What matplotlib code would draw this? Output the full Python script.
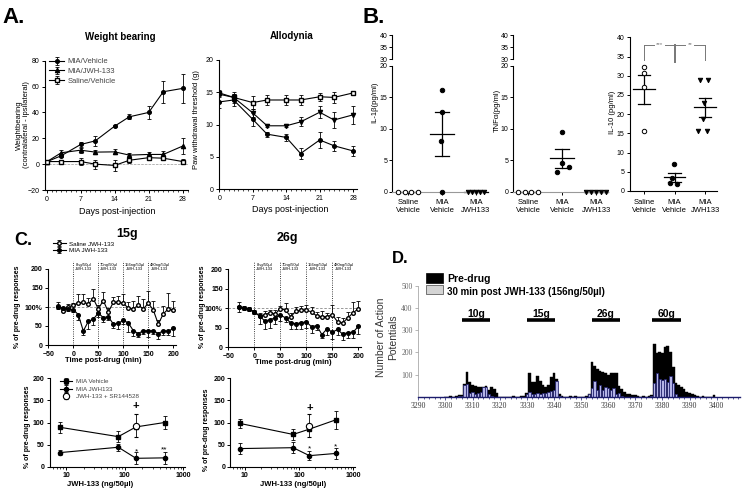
import numpy as np
import matplotlib.pyplot as plt
from matplotlib.patches import Rectangle
from matplotlib.ticker import MultipleLocator, LogLocator, NullFormatter

plt.rcParams['font.family'] = ['Liberation Sans', 'DejaVu Sans']

# ---------------- A. weight bearing / allodynia ----------------
days = [0, 3, 7, 10, 14, 17, 21, 24, 28]
wb_mia_veh = [1.8, 6.5, 15.2, 18, 29.4, 36.6, 40, 56, 58.6]
wb_mia_veh_err = [1, 1, 2, 4, 1, 2, 5, 8.5, 11.5]
wb_mia_jwh = [1.8, 8.8, 10.8, 9.3, 9.5, 7, 7.5, 7.5, 14]
wb_mia_jwh_err = [1, 2, 2, 1.5, 2, 2, 2, 3, 6]
wb_sal_veh = [2, 2, 2, 0, -1, 3, 5, 4.6, 2]
wb_sal_veh_err = [1, 1, 2.5, 3.5, 4, 2, 1.5, 1.5, 2]

al_mia_veh = [13.5, 13.8, 10.8, 8.5, 8.0, 5.5, 7.6, 6.7, 5.9]
al_mia_veh_err = [0.9, 0.9, 1.0, 0.4, 0.5, 0.8, 1.2, 0.8, 0.8]
al_mia_jwh = [14.7, 14.2, 11.8, 9.8, 9.8, 10.4, 11.9, 10.7, 11.5]
al_mia_jwh_err = [0.5, 0.5, 0.6, 0.2, 0.2, 0.7, 0.9, 1.3, 1.4]
al_sal_veh = [14.9, 14.2, 13.4, 13.8, 13.8, 13.8, 14.3, 14.2, 14.9]
al_sal_veh_err = [0.4, 0.8, 1.0, 0.8, 0.8, 0.8, 0.6, 0.8, 0.3]

# ---------------- B. cytokines (pg/ml) ----------------
b_groups = ['Saline\nVehicle', 'MIA\nVehicle', 'MIA\nJWH133']
il1b = [[0, 0, 0, 0], [16.2, 12.6, 8.1, 0], [0, 0, 0, 0, 0]]
tnfa = [[0, 0, 0, 0], [9.5, 4.5, 4.0, 3.1], [0, 0, 0, 0, 0]]
il10 = [[32.4, 30.8, 27.1, 15.7], [6.9, 3.3, 2.2, 1.7],
        [28.9, 28.9, 22.8, 18.7, 15.6, 15.6]]

# ---------------- C. time course and dose response ----------------
t_min = [-30, -20, -10, 0, 10, 20, 30, 40, 50, 60, 70, 80,
         90, 100, 110, 120, 130, 140, 150, 160, 170, 180, 190, 200]
dose_starts = [0, 50, 100, 150]
dose_labels = ['8ng/50µl', '70ng/50µl', '156ng/50µl', '480ng/50µl']

sal_15 = [103, 90, 100, 105, 110, 113, 108, 122, 95, 117, 87, 112,
          113, 110, 97, 95, 105, 95, 110, 92, 55, 82, 95, 93]
sal_15_err = [10, 5, 8, 5, 25, 22, 15, 25, 10, 22, 10, 15,
              15, 25, 15, 22, 25, 25, 32, 25, 10, 20, 42, 22]
mia_15 = [100, 98, 95, 93, 80, 37, 62, 68, 84, 72, 75, 55,
          57, 65, 58, 38, 30, 38, 37, 38, 30, 38, 36, 44]
mia_15_err = [5, 5, 5, 5, 15, 10, 20, 15, 10, 12, 10, 10,
              15, 10, 25, 15, 10, 10, 15, 10, 15, 12, 10, 20]

sal_26 = [103, 100, 97, 90, 80, 83, 88, 85, 98, 95, 78, 92,
          95, 95, 90, 80, 78, 78, 83, 65, 62, 75, 88, 98]
sal_26_err = [12, 5, 5, 5, 8, 10, 8, 10, 8, 18, 10, 10,
              10, 12, 12, 10, 15, 10, 25, 12, 12, 15, 28, 20]
mia_26 = [102, 100, 97, 90, 80, 67, 70, 75, 82, 75, 62, 60,
          62, 65, 52, 55, 32, 47, 38, 45, 33, 37, 38, 53]
mia_26_err = [12, 5, 5, 5, 20, 20, 20, 15, 15, 10, 15, 15,
              15, 15, 15, 12, 10, 15, 18, 15, 15, 15, 15, 20]

doses = [8, 78, 156, 480]
dr15_veh = [89, 68, 90, 100]
dr15_veh_err = [13, 13, 2, 15]
dr15_jwh = [32, 44, 19, 20]
dr15_jwh_err = [6, 8, 14, 14]
dr26_veh = [98, 73, 85, 106]
dr26_veh_err = [10, 12, 2, 20]
dr26_jwh = [41, 43, 25, 30]
dr26_jwh_err = [12, 12, 10, 12]
sr_dose = [156]
dr15_sr = [93]
dr15_sr_err = [26]
dr26_sr = [93]
dr26_sr_err = [26]

# ---------------- D. action potentials per 1 s bin, from 3300 s ----------------
d_start = 3300
pre_drug = [0, 0, 3, 0, 4, 6, 8, 56, 113, 68,
            55, 50, 45, 45, 45, 50, 30, 42, 35, 15,
            0, 0, 0, 0, 0, 2, 0, 0, 3, 5,
            15, 108, 65, 65, 93, 70, 55, 45, 55, 90,
            108, 80, 10, 3, 0, 0, 3, 0, 5, 0,
            0, 0, 3, 10, 155, 140, 125, 115, 110, 105,
            100, 105, 105, 105, 50, 35, 20, 12, 10, 6,
            6, 5, 0, 3, 0, 3, 8, 240, 196, 203,
            196, 226, 230, 203, 135, 60, 53, 45, 33, 23,
            15, 10, 6, 5, 0, 5, 0, 0, 0, 8]
post_drug = [0, 0, 0, 0, 0, 3, 5, 55, 58, 15,
             20, 10, 15, 20, 45, 45, 10, 5, 0, 0,
             0, 0, 0, 0, 0, 0, 0, 0, 0, 0,
             10, 20, 10, 10, 15, 10, 15, 15, 20, 25,
             30, 72, 5, 0, 0, 0, 0, 0, 0, 0,
             0, 0, 0, 10, 40, 70, 30, 55, 30, 45,
             40, 30, 40, 10, 15, 5, 0, 0, 0, 0,
             0, 0, 0, 0, 0, 0, 5, 60, 105, 80,
             75, 80, 65, 95, 60, 10, 0, 0, 0, 0,
             0, 0, 0, 0, 0, 0, 0, 0, 0, 0]
forces = ['10g', '15g', '26g', '60g']
force_on = [3306.2, 3330.2, 3354.1, 3376.2]
force_off = [3316.4, 3340.4, 3364.3, 3386.7]

W, H = 745, 493
fig = plt.figure(figsize=(7.45, 4.93), dpi=100)


def px_axes(left, top, right, bottom):
    return fig.add_axes([left / W, 1 - bottom / H, (right - left) / W, (bottom - top) / H])


def prism(ax, fs=5, bold=False):
    for s in ['top', 'right']:
        ax.spines[s].set_visible(False)
    ax.spines['left'].set_linewidth(0.8)
    ax.spines['bottom'].set_linewidth(0.8)
    ax.tick_params(labelsize=fs, length=2.5, width=0.7, pad=1.5)
    ax.tick_params(which='minor', length=1.5, width=0.5)
    if bold:
        for lab in ax.get_xticklabels() + ax.get_yticklabels():
            lab.set_fontweight('bold')


def ftext(x, y, s, **kw):
    fig.text(x / W, 1 - y / H, s, **kw)


eb = dict(color='k', lw=0.8, elinewidth=0.6, capsize=1.6, capthick=0.6)

# panel letters
ftext(2, 23, 'A.', fontsize=16, fontweight='bold')
ftext(362, 23, 'B.', fontsize=16, fontweight='bold')
ftext(14, 245, 'C.', fontsize=13, fontweight='bold')
ftext(392, 263, 'D.', fontsize=12, fontweight='bold')

# ---- A left: weight bearing ----
ax = px_axes(45.2, 60.7, 187.6, 190)
ax.axhline(0, color='#999', ls='--', lw=0.5)
ax.errorbar(days, wb_mia_veh, yerr=wb_mia_veh_err, fmt='-o', ms=2.6, label='MIA/Vehicle', **eb)
ax.errorbar(days, wb_mia_jwh, yerr=wb_mia_jwh_err, fmt='-^', ms=3, label='MIA/JWH-133', **eb)
ax.errorbar(days, wb_sal_veh, yerr=wb_sal_veh_err, fmt='-s', ms=3, mfc='white',
            label='Saline/Vehicle', **eb)
ax.set_xlim(-0.3, 29)
ax.set_ylim(-20, 80)
ax.set_xticks([0, 7, 14, 21, 28])
ax.xaxis.set_minor_locator(MultipleLocator(1))
ax.set_yticks([-20, 0, 20, 40, 60, 80])
prism(ax)
leg = ax.legend(loc='upper left', bbox_to_anchor=(0.0, 1.05), frameon=False, fontsize=5.5,
                labelspacing=0.3, handlelength=2.0, handletextpad=0.4, borderpad=0)
for t in leg.get_texts():
    t.set_color('#444')
ftext(120, 37, 'Weight bearing', ha='center', va='center', fontsize=7, fontweight='bold')
ftext(23, 125, 'Weightbearing\n(contralateral - ipsilateral)', rotation=90, ha='center',
      va='center', fontsize=5.5, multialignment='center')
ftext(117, 211, 'Days post-injection', ha='center', va='center', fontsize=6.5)

# ---- A right: allodynia ----
ax = px_axes(218.8, 60, 357, 189)
ax.errorbar(days, al_sal_veh, yerr=al_sal_veh_err, fmt='-s', ms=3, mfc='white', **eb)
ax.errorbar(days, al_mia_jwh, yerr=al_mia_jwh_err, fmt='-v', ms=3, **eb)
ax.errorbar(days, al_mia_veh, yerr=al_mia_veh_err, fmt='-o', ms=2.6, **eb)
ax.set_xlim(-0.1, 28.8)
ax.set_ylim(0, 20)
ax.set_xticks([0, 7, 14, 21, 28])
ax.xaxis.set_minor_locator(MultipleLocator(1))
ax.set_yticks([0, 5, 10, 15, 20])
prism(ax)
ftext(292, 36, 'Allodynia', ha='center', va='center', fontsize=7, fontweight='bold')
ftext(196, 120, 'Paw withdrawal threshold (g)', rotation=90, ha='center', va='center',
      fontsize=5.5)
ftext(290, 210, 'Days post-injection', ha='center', va='center', fontsize=6.5)


# ---- B: scatter with mean +/- SEM ----
def scatter_panel(ax, groups, offsets, markers):
    for i, vals in enumerate(groups):
        vals = np.array(vals, dtype=float)
        mk, fill = markers[i]
        ax.plot(np.array(offsets[i]) + i, vals, ls='none', marker=mk, ms=3.2, color='k',
                mfc=fill, mew=0.7, clip_on=False, zorder=3)
        m = vals.mean()
        sem = vals.std(ddof=1) / np.sqrt(len(vals))
        ax.plot([i - 0.35, i + 0.35], [m, m], color='k', lw=0.9, clip_on=False)
        if sem > 0:
            ax.plot([i - 0.2, i + 0.2], [m - sem, m - sem], color='k', lw=0.9)
            ax.plot([i - 0.2, i + 0.2], [m + sem, m + sem], color='k', lw=0.9)
            ax.plot([i, i], [m - sem, m + sem], color='k', lw=0.9)
    ax.set_xticks([0, 1, 2])
    ax.set_xticklabels(b_groups)
    ax.tick_params(axis='x', length=0)


def broken_top(left, right, xlim):
    up = px_axes(left, 35, right, 59.3)
    up.set_ylim(30, 40)
    up.set_xlim(*xlim)
    up.set_yticks([30, 35, 40])
    up.set_xticks([])
    for s in ['top', 'right', 'bottom']:
        up.spines[s].set_visible(False)
    up.spines['left'].set_linewidth(0.8)
    up.tick_params(labelsize=5, length=2.5, width=0.7, pad=1.0)
    up.patch.set_alpha(0)


sal_mk = ('o', 'white')
mia_mk = ('o', 'k')
jwh_mk = ('v', 'k')

ax = px_axes(392, 65.7, 482, 191.7)
scatter_panel(ax, il1b, [[-0.29, -0.1, 0.09, 0.29], [0, 0, -0.02, 0],
                         [-0.24, -0.12, 0, 0.12, 0.24]], [sal_mk, mia_mk, jwh_mk])
ax.set_xlim(-0.47, 2.18)
ax.set_ylim(0, 20)
ax.set_yticks([0, 5, 10, 15, 20])
prism(ax, fs=5)
ax.tick_params(axis='y', pad=1.0)
ax.spines['bottom'].set_color('#999')
ax.tick_params(axis='x', labelsize=5.5, pad=3)
broken_top(392, 482, (-0.47, 2.18))
ftext(375, 102, 'IL-1β(pg/ml)', rotation=90, ha='center', va='center', fontsize=5.5)

ax = px_axes(513, 65.7, 608, 191.7)
scatter_panel(ax, tnfa, [[-0.3, -0.1, 0.1, 0.3], [0, 0, 0.2, -0.15],
                         [-0.3, -0.15, 0, 0.15, 0.3]], [sal_mk, mia_mk, jwh_mk])
ax.set_xlim(-0.44, 2.35)
ax.set_ylim(0, 20)
ax.set_yticks([0, 5, 10, 15, 20])
prism(ax, fs=5)
ax.tick_params(axis='y', pad=1.0)
ax.spines['bottom'].set_color('#999')
ax.tick_params(axis='x', labelsize=5.5, pad=3)
broken_top(513, 608, (-0.44, 2.35))
ftext(497, 110, 'TNFα(pg/ml)', rotation=90, ha='center', va='center', fontsize=5.5)

ax = px_axes(630, 37.3, 717, 191)
scatter_panel(ax, il10, [[0, 0, 0, 0], [-0.02, -0.08, -0.15, 0.07],
                         [-0.16, 0.11, -0.05, -0.06, -0.22, 0.05]], [sal_mk, mia_mk, jwh_mk])
ax.set_xlim(-0.46, 2.39)
ax.set_ylim(0, 40)
ax.set_yticks([0, 5, 10, 15, 20, 25, 30, 35, 40])
prism(ax, fs=5)
ax.tick_params(axis='x', labelsize=5.5, pad=3)
br = dict(color='#777', lw=0.7)
ax.plot([0, 0], [34.1, 38], **br)
ax.plot([0, 0.32], [38, 38], **br)
ax.plot([0.68, 1.0], [38, 38], **br)
ax.plot([1, 1], [33.6, 38], color='#777', lw=1.4)
ax.plot([1.0, 1.35], [38, 38], **br)
ax.plot([1.65, 2.0], [38, 38], **br)
ax.plot([2, 2], [34.1, 38], **br)
ax.text(0.5, 38, '***', ha='center', va='center', fontsize=4.5, color='#777')
ax.text(1.5, 38, '**', ha='center', va='center', fontsize=4.5, color='#777')
ftext(613, 112, 'IL-10 (pg/ml)', rotation=90, ha='center', va='center', fontsize=5.5)


# ---- C top: time courses ----
def time_panel(ax, sal, sal_err, mia, mia_err):
    zeros = [0] * len(t_min)
    ax.axhline(100, color='#888', lw=0.6, ls=(0, (3, 2)))
    for xs, lab in zip(dose_starts, dose_labels):
        ax.axvline(xs, color='k', ls=':', lw=0.6)
        ax.text(xs + 3, 206, lab + '\nJWH-133', fontsize=3, ha='left', va='center',
                multialignment='center', linespacing=1.1)
    ax.errorbar(t_min, sal, yerr=[zeros, sal_err], fmt='-o', ms=2.6, mfc='white',
                label='Saline JWH-133', **eb)
    ax.errorbar(t_min, mia, yerr=[mia_err, zeros], fmt='-o', ms=2.6,
                label='MIA JWH-133', **eb)
    ax.set_xlim(-50, 205)
    ax.set_ylim(0, 220)
    ax.spines['left'].set_bounds(0, 200)
    ax.set_xticks([-50, 0, 50, 100, 150, 200])
    ax.set_yticks([0, 50, 100, 150, 200])
    ax.set_yticklabels(['0', '50', '100%', '150', '200'])
    prism(ax, fs=5, bold=True)


ax = px_axes(48.3, 261.4, 175.8, 345)
time_panel(ax, sal_15, sal_15_err, mia_15, mia_15_err)
leg = ax.legend(loc='upper left', bbox_to_anchor=(50 / W, 1 - 238 / H),
                bbox_transform=fig.transFigure, frameon=False, fontsize=4.5,
                labelspacing=0.15, handlelength=2.0, handletextpad=0.5, borderpad=0)
ftext(127, 234, '15g', ha='center', va='center', fontsize=9, fontweight='bold')
ftext(18, 307, '% of pre-drug responses', rotation=90, ha='center', va='center',
      fontsize=5, fontweight='bold')
ftext(103, 360, 'Time post-drug (min)', ha='center', va='center', fontsize=5.5,
      fontweight='bold')

ax = px_axes(228.3, 261.4, 360.9, 347)
time_panel(ax, sal_26, sal_26_err, mia_26, mia_26_err)
ftext(287, 238, '26g', ha='center', va='center', fontsize=9, fontweight='bold')
ftext(202, 307, '% of pre-drug responses', rotation=90, ha='center', va='center',
      fontsize=5, fontweight='bold')
ftext(293, 362, 'Time post-drug (min)', ha='center', va='center', fontsize=5.5,
      fontweight='bold')


# ---- C bottom: dose response ----
def dose_panel(ax, veh, veh_err, jwh, jwh_err, sr, sr_err, xlim):
    ax.errorbar(doses, veh, yerr=veh_err, fmt='-s', ms=3, label='MIA Vehicle', **eb)
    ax.errorbar(doses, jwh, yerr=jwh_err, fmt='-o', ms=3, label='MIA JWH133', **eb)
    ax.errorbar(sr_dose, sr, yerr=sr_err, fmt='o', ms=4.5, mfc='white', mew=0.8,
                label='JWH-133 + SR144528', **eb)
    ax.set_xscale('log')
    ax.set_xlim(*xlim)
    ax.set_ylim(0, 200)
    ax.set_xticks([10, 100, 1000])
    ax.set_xticklabels(['10', '100', '1000'])
    ax.xaxis.set_minor_locator(LogLocator(base=10, subs=np.arange(2, 10)))
    ax.xaxis.set_minor_formatter(NullFormatter())
    ax.set_yticks([0, 50, 100, 150, 200])
    prism(ax, fs=5, bold=True)


ax = px_axes(50, 378.3, 185, 466.7)
dose_panel(ax, dr15_veh, dr15_veh_err, dr15_jwh, dr15_jwh_err, dr15_sr, dr15_sr_err,
           (5.33, 1069))
ax.text(156, 137, '+', ha='center', va='center', fontsize=8, fontweight='bold')
ax.text(160, 34, '*', ha='center', va='center', fontsize=6)
ax.text(480, 38, '**', ha='center', va='center', fontsize=6)
leg = ax.legend(loc='upper left', bbox_to_anchor=(0.05, 1.03), frameon=False, fontsize=4.5,
                labelspacing=0.35, handlelength=2.0, handletextpad=0.5, borderpad=0)
for t in leg.get_texts():
    t.set_color('#444')
ftext(28, 427, '% of pre-drug responses', rotation=90, ha='center', va='center',
      fontsize=5, fontweight='bold')
ftext(100, 485, 'JWH-133 (ng/50µl)', ha='center', va='center', fontsize=5.5,
      fontweight='bold')

ax = px_axes(230, 378.3, 355, 466.7)
dose_panel(ax, dr26_veh, dr26_veh_err, dr26_jwh, dr26_jwh_err, dr26_sr, dr26_sr_err,
           (5.3, 1088))
ax.tick_params(axis='y', pad=1.0)
ax.text(156, 133, '+', ha='center', va='center', fontsize=8, fontweight='bold')
ax.text(160, 40, '*', ha='center', va='center', fontsize=6)
ax.text(480, 44, '*', ha='center', va='center', fontsize=6)
ftext(207, 430, '% of pre-drug responses', rotation=90, ha='center', va='center',
      fontsize=5, fontweight='bold')
ftext(293, 485, 'JWH-133 (ng/50µl)', ha='center', va='center', fontsize=5.5,
      fontweight='bold')

# ---- D: histogram of action potentials ----
ax = px_axes(418.3, 272.8, 740, 396.7)
bins = d_start + np.arange(len(pre_drug))
navy = '#1c1c6c'
ax.bar(bins, pre_drug, width=1.0, color='k', edgecolor='k', lw=0.3)
ax.bar(bins, post_drug, width=0.85, color='#b4b4e6', edgecolor=navy, lw=0.5)
for name, on, off in zip(forces, force_on, force_off):
    ax.plot([on, off], [346, 346], color='k', lw=2.6, solid_capstyle='butt')
    ax.text((on + off) / 2, 358, name, ha='center', va='baseline', fontsize=7.5,
            fontweight='bold')
ax.set_xlim(3290, 3408.6)
ax.set_ylim(0, 560)
for s in ['top', 'right']:
    ax.spines[s].set_visible(False)
ax.spines['bottom'].set_color(navy)
ax.spines['bottom'].set_linewidth(1.0)
ax.spines['left'].set_color('#999')
ax.spines['left'].set_linewidth(0.5)
ax.spines['left'].set_bounds(0, 500)
ax.set_xticks(np.arange(3290, 3401, 10))
ax.xaxis.set_minor_locator(MultipleLocator(2))
ax.set_yticks([100, 200, 300, 400, 500])
ax.tick_params(labelsize=5.5, length=2, width=0.5, color=navy, labelcolor='#333', pad=2)
ax.tick_params(which='minor', length=1.5, width=0.5, color=navy)
for lab in ax.get_xticklabels() + ax.get_yticklabels():
    lab.set_fontfamily('Liberation Serif')
ax.tick_params(axis='y', color='#999', labelcolor='#666')
fig.add_artist(Rectangle((426 / W, 1 - 283 / H), 17 / W, 10 / H, transform=fig.transFigure,
                         fc='k', ec='k', lw=0.5))
fig.add_artist(Rectangle((426 / W, 1 - 294 / H), 17 / W, 9 / H, transform=fig.transFigure,
                         fc='#d4d4d4', ec='#444', lw=0.5))
ftext(447, 279, 'Pre-drug', ha='left', va='center', fontsize=7.5, fontweight='bold')
ftext(447, 292, '30 min post JWH-133 (156ng/50µl)', ha='left', va='center', fontsize=7,
      fontweight='bold')
ftext(387, 337, 'Number of Action\nPotentials', rotation=90, ha='center', va='center',
      fontsize=7.5, color='#333', multialignment='center')

fig.savefig('out.png', dpi=100)
